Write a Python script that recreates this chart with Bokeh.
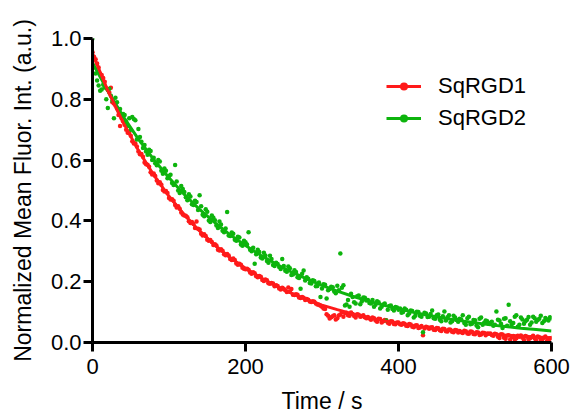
from bokeh.plotting import figure
from bokeh.models import Range1d, Legend, LegendItem, FixedTicker
from bokeh.embed import file_html
from bokeh.resources import INLINE

# ---- data (two interleaved sampling grids) ----
time_a = list(range(0, 601, 4))
time_b = list(range(2, 600, 4))

sqrgd1_a = [
    0.955, 0.932, 0.905, 0.880, 0.858, 0.831, 0.838, 0.786, 0.770, 0.712,
    0.728, 0.700, 0.690, 0.662, 0.655, 0.628, 0.620, 0.592, 0.585, 0.560,
    0.556, 0.533, 0.527, 0.502, 0.498, 0.475, 0.471, 0.452, 0.448, 0.428,
    0.418, 0.412, 0.393, 0.390, 0.398, 0.372, 0.352, 0.350, 0.335, 0.331,
    0.323, 0.305, 0.307, 0.290, 0.291, 0.275, 0.276, 0.260, 0.259, 0.246,
    0.241, 0.239, 0.226, 0.228, 0.215, 0.216, 0.202, 0.205, 0.193, 0.194,
    0.188, 0.178, 0.180, 0.172, 0.181, 0.176, 0.156, 0.157, 0.146, 0.147,
    0.143, 0.135, 0.136, 0.128, 0.124, 0.118, 0.110, 0.088, 0.083, 0.090,
    0.080, 0.092, 0.085, 0.098, 0.088, 0.094, 0.082, 0.091, 0.086, 0.083,
    0.084, 0.075, 0.080, 0.068, 0.077, 0.070, 0.073, 0.062, 0.069, 0.060,
    0.066, 0.058, 0.062, 0.054, 0.059, 0.050, 0.057, 0.049, 0.024, 0.052,
    0.045, 0.050, 0.041, 0.047, 0.038, 0.044, 0.036, 0.042, 0.034, 0.040,
    0.038, 0.031, 0.037, 0.029, 0.035, 0.027, 0.033, 0.026, 0.031, 0.030,
    0.030, 0.022, 0.027, 0.015, 0.026, 0.012, 0.024, 0.018, 0.009, 0.022,
    0.023, 0.008, 0.019, 0.014, 0.022, 0.006, 0.017, 0.011, 0.020, 0.007,
    0.015,
]
sqrgd1_b = [
    0.940, 0.918, 0.884, 0.870, 0.836, 0.822, 0.790, 0.780, 0.748, 0.738,
    0.716, 0.690, 0.680, 0.655, 0.645, 0.619, 0.611, 0.586, 0.578, 0.553,
    0.548, 0.524, 0.519, 0.497, 0.492, 0.470, 0.466, 0.444, 0.440, 0.421,
    0.417, 0.399, 0.396, 0.377, 0.374, 0.358, 0.356, 0.338, 0.337, 0.321,
    0.319, 0.303, 0.302, 0.287, 0.286, 0.271, 0.271, 0.256, 0.256, 0.243,
    0.243, 0.230, 0.231, 0.218, 0.219, 0.206, 0.207, 0.195, 0.196, 0.185,
    0.186, 0.174, 0.177, 0.166, 0.167, 0.157, 0.159, 0.148, 0.150, 0.140,
    0.141, 0.133, 0.134, 0.125, 0.121, 0.112, 0.093, 0.079, 0.086, 0.076,
    0.089, 0.100, 0.097, 0.090, 0.099, 0.087, 0.093, 0.085, 0.090, 0.080,
    0.079, 0.082, 0.072, 0.078, 0.066, 0.074, 0.065, 0.070, 0.061, 0.066,
    0.060, 0.063, 0.055, 0.061, 0.052, 0.056, 0.048, 0.054, 0.046, 0.050,
    0.049, 0.042, 0.048, 0.040, 0.045, 0.037, 0.043, 0.035, 0.041, 0.033,
    0.034, 0.039, 0.030, 0.036, 0.028, 0.034, 0.025, 0.032, 0.024, 0.029,
    0.025, 0.029, 0.019, 0.027, 0.016, 0.023, 0.010, 0.021, 0.014, 0.019,
    0.016, 0.021, 0.010, 0.018, 0.013, 0.020, 0.009, 0.016, 0.005, 0.014,
]

sqrgd2_a = [
    1.000, 0.885, 0.845, 0.832, 0.840, 0.771, 0.812, 0.738, 0.790, 0.768,
    0.752, 0.725, 0.738, 0.742, 0.731, 0.702, 0.660, 0.650, 0.618, 0.630,
    0.608, 0.583, 0.595, 0.555, 0.565, 0.548, 0.525, 0.584, 0.500, 0.515,
    0.495, 0.468, 0.480, 0.452, 0.462, 0.484, 0.420, 0.438, 0.401, 0.418,
    0.402, 0.377, 0.388, 0.363, 0.429, 0.350, 0.358, 0.335, 0.345, 0.318,
    0.330, 0.363, 0.300, 0.259, 0.305, 0.280, 0.295, 0.268, 0.285, 0.255,
    0.262, 0.248, 0.275, 0.236, 0.250, 0.222, 0.238, 0.215, 0.177, 0.237,
    0.215, 0.196, 0.205, 0.185, 0.197, 0.178, 0.190, 0.172, 0.183, 0.168,
    0.187, 0.293, 0.188, 0.125, 0.118, 0.150, 0.128, 0.155, 0.135, 0.147,
    0.140, 0.128, 0.118, 0.136, 0.112, 0.125, 0.072, 0.120, 0.110, 0.117,
    0.108, 0.098, 0.112, 0.090, 0.105, 0.082, 0.101, 0.088, 0.034, 0.095,
    0.085, 0.105, 0.078, 0.092, 0.070, 0.102, 0.083, 0.066, 0.088, 0.074,
    0.078, 0.090, 0.058, 0.085, 0.062, 0.073, 0.050, 0.082, 0.065, 0.070,
    0.064, 0.055, 0.102, 0.072, 0.048, 0.080, 0.124, 0.060, 0.085, 0.052,
    0.082, 0.062, 0.075, 0.058, 0.085, 0.068, 0.078, 0.064, 0.081, 0.072,
    0.080,
]
sqrgd2_b = [
    0.905, 0.862, 0.828, 0.848, 0.800, 0.835, 0.795, 0.805, 0.762, 0.745,
    0.748, 0.712, 0.700, 0.735, 0.668, 0.676, 0.640, 0.628, 0.634, 0.600,
    0.590, 0.600, 0.565, 0.572, 0.540, 0.552, 0.518, 0.530, 0.492, 0.505,
    0.478, 0.488, 0.455, 0.466, 0.436, 0.448, 0.415, 0.430, 0.396, 0.410,
    0.385, 0.398, 0.368, 0.375, 0.352, 0.362, 0.338, 0.348, 0.322, 0.335,
    0.322, 0.305, 0.312, 0.290, 0.298, 0.276, 0.286, 0.262, 0.275, 0.252,
    0.258, 0.242, 0.252, 0.233, 0.244, 0.224, 0.232, 0.212, 0.226, 0.204,
    0.210, 0.194, 0.202, 0.186, 0.150, 0.192, 0.145, 0.176, 0.182, 0.162,
    0.172, 0.180, 0.122, 0.140, 0.160, 0.132, 0.152, 0.126, 0.148, 0.138,
    0.130, 0.140, 0.124, 0.132, 0.118, 0.128, 0.108, 0.122, 0.105, 0.115,
    0.112, 0.100, 0.108, 0.095, 0.104, 0.088, 0.100, 0.085, 0.098, 0.084,
    0.094, 0.080, 0.090, 0.075, 0.086, 0.072, 0.090, 0.070, 0.082, 0.068,
    0.076, 0.064, 0.080, 0.060, 0.074, 0.056, 0.078, 0.058, 0.072, 0.062,
    0.068, 0.058, 0.075, 0.062, 0.078, 0.055, 0.070, 0.064, 0.090, 0.058,
    0.076, 0.070, 0.084, 0.066, 0.080, 0.074, 0.088, 0.070, 0.076, 0.083,
]

fit_time = list(range(0, 601, 20))
fit1 = [0.950, 0.829, 0.724, 0.632, 0.551, 0.481, 0.420, 0.367, 0.320, 0.279,
        0.244, 0.213, 0.186, 0.162, 0.141, 0.123, 0.108, 0.094, 0.082, 0.072,
        0.063, 0.055, 0.048, 0.042, 0.036, 0.032, 0.028, 0.024, 0.021, 0.018,
        0.016]
fit2 = [0.920, 0.827, 0.744, 0.669, 0.602, 0.542, 0.487, 0.438, 0.394, 0.354,
        0.319, 0.287, 0.258, 0.232, 0.209, 0.188, 0.169, 0.152, 0.137, 0.123,
        0.111, 0.099, 0.089, 0.080, 0.072, 0.065, 0.058, 0.053, 0.047, 0.043,
        0.038]

series_names = ["SqRGD1", "SqRGD2"]
x_ticks = [0, 200, 400, 600]
y_ticks = [0.0, 0.2, 0.4, 0.6, 0.8, 1.0]
y_tick_labels = ["0.0", "0.2", "0.4", "0.6", "0.8", "1.0"]

RED = "#ff1a1a"
GREEN = "#0db40d"
FONT = "Liberation Sans"

p = figure(frame_width=459, frame_height=304,
           x_range=Range1d(0, 600), y_range=Range1d(0, 1.0),
           output_backend="svg", toolbar_location=None,
           min_border_left=92, min_border_right=20,
           min_border_top=38, min_border_bottom=70)

p.outline_line_color = None
p.xgrid.visible = False
p.ygrid.visible = False

r1s = p.scatter(time_a + time_b, sqrgd1_a + sqrgd1_b, size=4.5,
                fill_color=RED, line_color=None)
r2s = p.scatter(time_a + time_b, sqrgd2_a + sqrgd2_b, size=4.5,
                fill_color=GREEN, line_color=None)
l2 = p.line(fit_time, fit2, line_width=3, line_color=GREEN)
l1 = p.line(fit_time, fit1, line_width=3, line_color=RED)

for ax in (p.xaxis[0], p.yaxis[0]):
    ax.axis_line_width = 3
    ax.axis_line_color = "black"
    ax.major_tick_line_width = 3
    ax.major_tick_line_color = "black"
    ax.major_tick_out = 9
    ax.major_tick_in = 0
    ax.minor_tick_line_color = None
    ax.major_label_text_font = FONT
    ax.major_label_text_font_size = "22px"
    ax.major_label_text_color = "black"
    ax.axis_label_text_font = FONT
    ax.axis_label_text_font_size = "23px"
    ax.axis_label_text_font_style = "normal"
    ax.axis_label_text_color = "black"

p.xaxis[0].ticker = FixedTicker(ticks=x_ticks)
p.xaxis[0].major_label_standoff = 7
p.xaxis[0].axis_label = "Time / s"
p.xaxis[0].axis_label_standoff = 11

p.yaxis[0].ticker = FixedTicker(ticks=y_ticks)
p.yaxis[0].major_label_overrides = {v: s for v, s in zip(y_ticks, y_tick_labels)}
p.yaxis[0].major_label_standoff = 2
p.yaxis[0].axis_label = "Normalized Mean Fluor. Int. (a.u.)"
p.yaxis[0].axis_label_standoff = 12

legend = Legend(items=[LegendItem(label=series_names[0], renderers=[l1, r1s]),
                       LegendItem(label=series_names[1], renderers=[l2, r2s])],
                location=(294, 211), padding=0, margin=0, spacing=6,
                glyph_width=35, glyph_height=20, label_height=20,
                label_standoff=17, border_line_alpha=0,
                background_fill_alpha=0,
                label_text_font=FONT, label_text_font_size="22px",
                label_text_color="black")
p.add_layout(legend)

open("out.html", "w").write(file_html(p, INLINE))
